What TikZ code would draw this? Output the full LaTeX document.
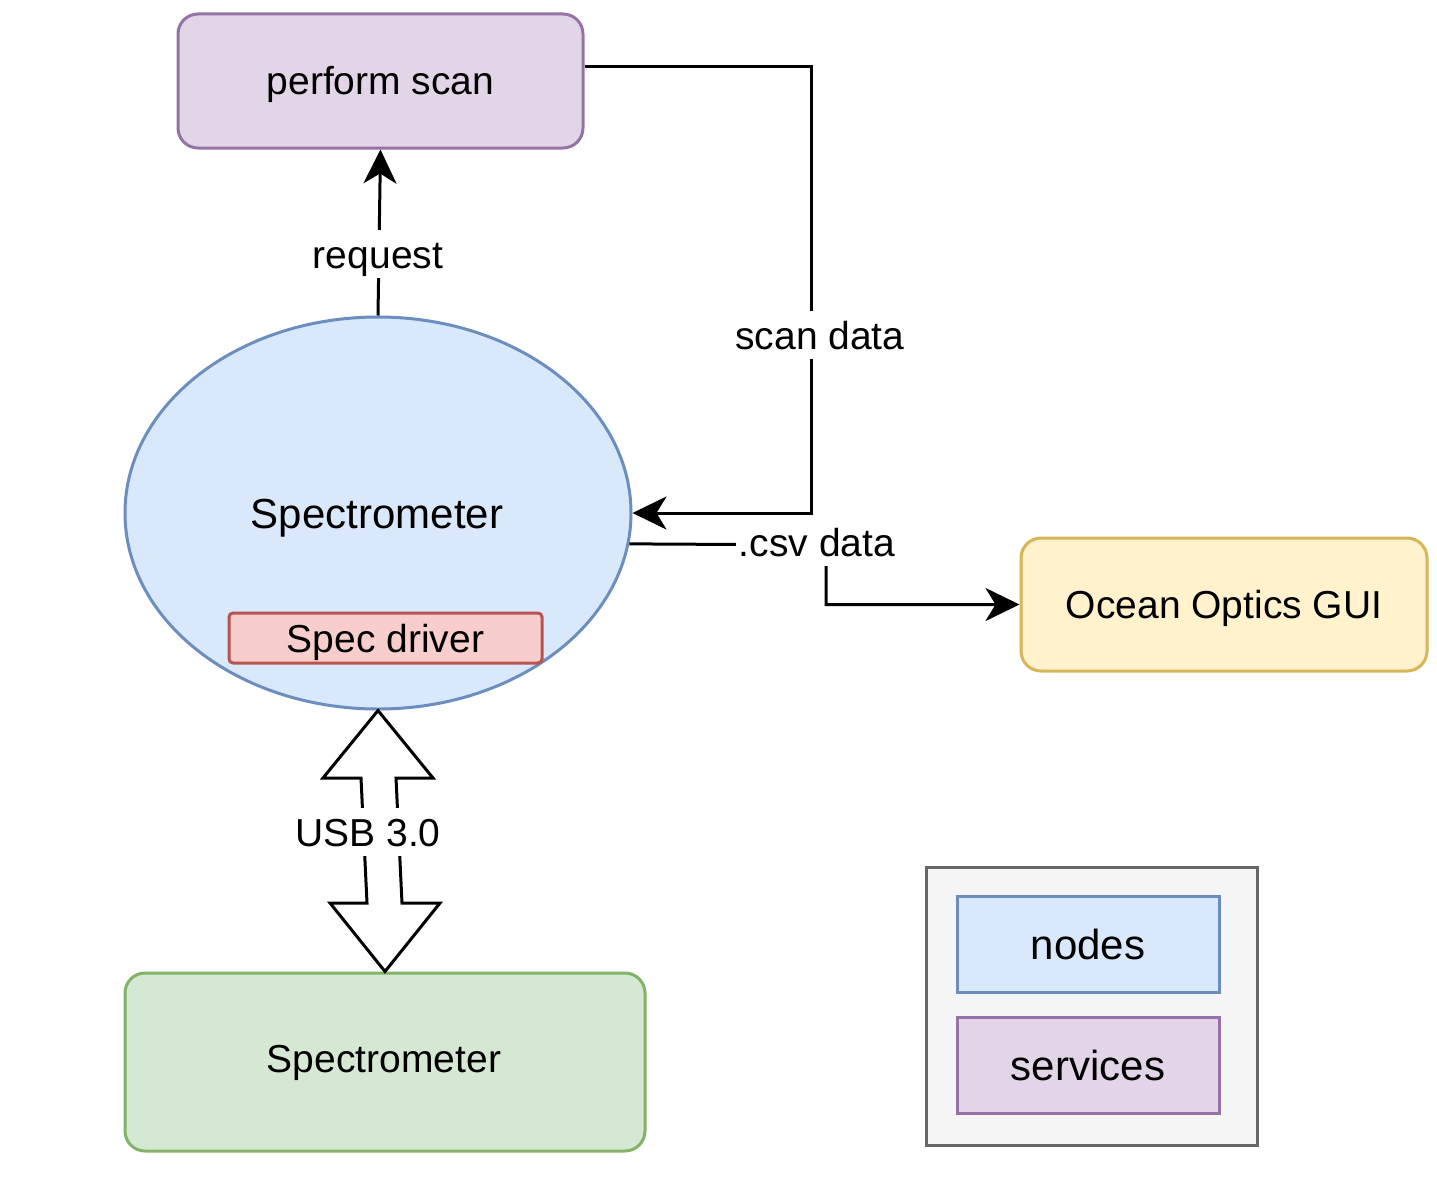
\documentclass[tikz,border=0pt]{standalone}
\usepackage{fontspec}
\setmainfont{Liberation Sans}
\usetikzlibrary{shapes.geometric,arrows.meta}
\definecolor{purF}{HTML}{E1D5E7}\definecolor{purD}{HTML}{9673A6}
\definecolor{bluF}{HTML}{DAE8FC}\definecolor{bluD}{HTML}{6C8EBF}
\definecolor{redF}{HTML}{F8CECC}\definecolor{redD}{HTML}{B85450}
\definecolor{yelF}{HTML}{FFF2CC}\definecolor{yelD}{HTML}{D6B656}
\definecolor{grnF}{HTML}{D5E8D4}\definecolor{grnD}{HTML}{82B366}
\definecolor{legF}{HTML}{F5F5F5}\definecolor{legD}{HTML}{666666}
\tikzset{
  txt/.style={font=\fontsize{39}{46}\selectfont, text height=28pt, text depth=0pt},
  bigtxt/.style={font=\fontsize{42}{50}\selectfont, text height=30pt, text depth=0pt},
  rbox/.style={draw, line width=3pt, rounded corners=20pt, inner sep=0pt, txt},
  sbox/.style={draw, line width=3pt, inner sep=0pt},
  lbl/.style={txt, fill=white, inner xsep=3pt, inner ysep=10pt},
  arr/.style={line width=3pt, -{Stealth[length=34pt,width=33pt,inset=10pt]}},
}
\begin{document}
\begin{tikzpicture}[x=1pt,y=-1pt]
\useasboundingbox (0,0) rectangle (1437,1180);
% nodes
\node[rbox, fill=purF, draw=purD, minimum width=405pt, minimum height=134pt] (ps) at (380.5,81) {perform scan};
\node[ellipse, draw=bluD, fill=bluF, line width=3pt, minimum width=506pt, minimum height=392pt, inner sep=0pt] (ell) at (378,513) {};
\node[bigtxt] (elltxt) at (377,513) {Spectrometer};
\node[sbox, rounded corners=4pt, fill=redF, draw=redD, minimum width=313pt, minimum height=50pt, txt] (sd) at (385.5,638) {Spec driver};
\node[rbox, fill=yelF, draw=yelD, minimum width=406pt, minimum height=133pt] (oo) at (1224,604.5) {Ocean Optics GUI};
\node[rbox, fill=grnF, draw=grnD, minimum width=520pt, minimum height=178pt] (sp) at (385,1062) {};
\node[txt] (sptxt) at (384,1058) {Spectrometer};
% legend
\node[sbox, fill=legF, draw=legD, minimum width=331pt, minimum height=278pt] (leg) at (1091.5,1006) {};
\node[sbox, fill=bluF, draw=bluD, minimum width=262pt, minimum height=96pt, bigtxt] (ln) at (1088,944) {nodes};
\node[sbox, fill=purF, draw=purD, minimum width=262pt, minimum height=96pt, bigtxt] (ls) at (1088,1065) {services};
% request
\draw[arr] (ell.north) -- (ps.south);
\node[lbl] (req) at (378,254) {request};
% scan data
\coordinate (sdA) at (811,67);
\draw[arr] ([yshift=14pt]ps.east) -- (sdA) |- (ell.east);
\node[lbl] (sdl) at (820,335) {scan data};
% csv data
\coordinate (csvA) at (826,545);
\draw[arr] (ell.-7.3) -- (csvA) |- (oo.west);
\node[lbl] (csvl) at (817,542) {.csv data};
% USB block arrow
\draw[line width=3pt, fill=white, line join=miter]
  (ell.south) -- (433,778) -- (396,778) -- (402,903) -- (440,903) -- (sp.north)
  -- (330,903) -- (367,903) -- (361,778) -- (323,778) -- cycle;
\node[lbl, inner xsep=6pt] (usb) at (368,832) {USB 3.0};
\end{tikzpicture}
\end{document}
